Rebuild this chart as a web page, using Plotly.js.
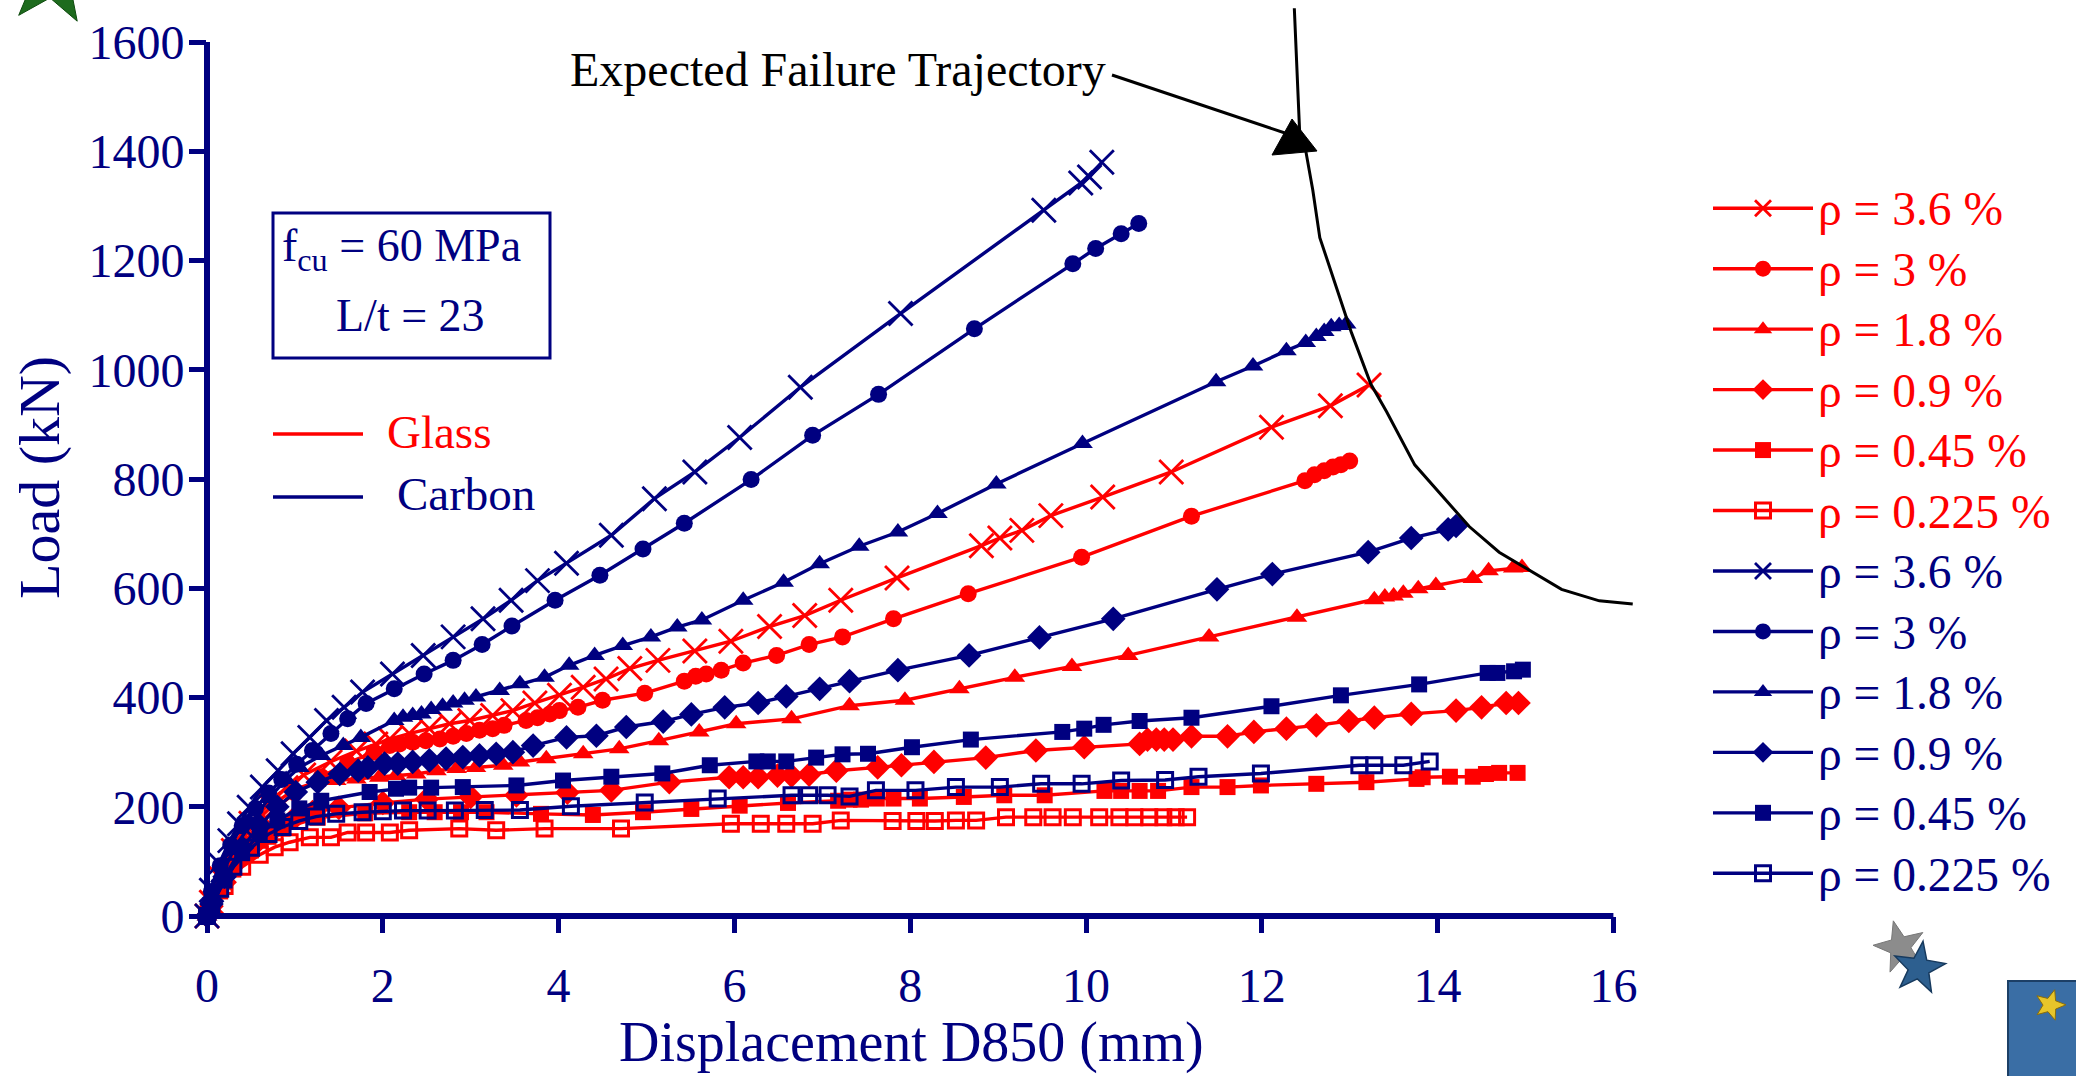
<!DOCTYPE html>
<html>
<head>
<meta charset="utf-8">
<script src="https://cdn.plot.ly/plotly-3.0.1.min.js"></script>
<style>
  html, body { margin: 0; padding: 0; background: #ffffff; }
  #chart { width: 2076px; height: 1076px; }
</style>
</head>
<body>
<div id="chart"></div>
<script>
// Load–displacement response of slabs with glass and carbon FRP reinforcement,
// fcu = 60 MPa, L/t = 23, for six reinforcement ratios each.

// ---- Glass FRP ----
const glass36X  = [0, 0.05, 0.15, 0.3, 0.5, 0.7, 0.9, 1.1, 1.4, 1.7, 1.92, 2.08, 2.3, 2.53, 2.76, 2.99, 3.25, 3.48, 3.73, 4.01, 4.28, 4.54, 4.81, 5.13, 5.55, 5.96, 6.4, 6.8, 7.21, 7.85, 8.81, 9.02, 9.27, 9.6, 10.19, 10.97, 12.11, 12.78, 13.22];
const glass36Y  = [0, 25, 70, 120, 170, 205, 235, 258, 282, 302, 315, 324, 334, 343, 352, 358, 367, 376, 390, 404, 419, 434, 453, 468, 485, 503, 530, 550, 578, 619, 678, 692, 706, 733, 767, 813, 895, 934, 972];

const glass30X  = [0, 0.05, 0.2, 0.4, 0.6, 0.8, 1.0, 1.3, 1.6, 1.9, 2.08, 2.19, 2.34, 2.49, 2.65, 2.8, 2.95, 3.1, 3.25, 3.38, 3.63, 3.76, 3.9, 4.01, 4.22, 4.5, 4.98, 5.43, 5.56, 5.68, 5.85, 6.1, 6.48, 6.85, 7.23, 7.81, 8.66, 9.95, 11.2, 12.49, 12.6, 12.71, 12.81, 12.9, 13.0];
const glass30Y  = [0, 20, 75, 130, 170, 200, 225, 255, 280, 300, 312, 315, 318, 321, 324, 329, 334, 340, 343, 349, 358, 363, 370, 376, 382, 395, 408, 430, 439, 443, 450, 463, 477, 497, 511, 544, 590, 657, 732, 797, 808, 815, 822, 826, 833];

const glass18X  = [0, 0.05, 0.2, 0.4, 0.6, 0.8, 1.0, 1.24, 1.47, 1.7, 1.96, 2.15, 2.38, 2.61, 2.84, 3.06, 3.37, 3.56, 3.86, 4.28, 4.69, 5.14, 5.6, 6.02, 6.65, 7.31, 7.94, 8.56, 9.19, 9.84, 10.48, 11.4, 12.4, 13.28, 13.4, 13.5, 13.61, 13.78, 13.98, 14.4, 14.58, 14.86, 14.96];
const glass18Y  = [0, 25, 80, 140, 180, 210, 232, 245, 248, 251, 254, 257, 260, 266, 270, 272, 276, 282, 288, 297, 306, 321, 337, 352, 361, 385, 395, 416, 437, 457, 477, 511, 547, 579, 584, 586, 591, 599, 605, 618, 632, 637, 638];

const glass09X  = [0, 0.05, 0.2, 0.4, 0.6, 0.8, 1.0, 1.2, 1.5, 2.0, 2.5, 3.0, 3.52, 4.1, 4.6, 5.26, 5.94, 6.1, 6.27, 6.49, 6.65, 6.85, 7.16, 7.63, 7.9, 8.27, 8.86, 9.43, 9.98, 10.61, 10.7, 10.8, 10.89, 10.99, 11.2, 11.61, 11.91, 12.28, 12.62, 12.99, 13.28, 13.7, 14.21, 14.5, 14.78, 14.92];
const glass09Y  = [0, 18, 62, 110, 140, 165, 180, 190, 198, 207, 214, 218, 221, 226, 230, 245, 254, 254, 254, 257, 257, 259, 266, 272, 276, 282, 290, 303, 309, 315, 323, 323, 323, 323, 329, 329, 337, 343, 349, 357, 363, 370, 376, 382, 390, 390];

const glass045X = [0, 0.05, 0.15, 0.3, 0.5, 0.7, 0.86, 1.26, 1.8, 2.3, 2.59, 2.89, 3.18, 3.8, 4.39, 4.96, 5.51, 6.06, 6.61, 7.18, 7.31, 7.44, 7.62, 7.81, 8.11, 8.61, 9.07, 9.53, 10.21, 10.4, 10.61, 10.82, 11.2, 11.61, 11.99, 12.62, 13.19, 13.76, 13.83, 14.14, 14.4, 14.55, 14.7, 14.91];
const glass045Y = [0, 15, 45, 85, 120, 145, 160, 180, 188, 190, 190, 190, 190, 187, 185, 190, 196, 202, 207, 211, 213, 213, 215, 215, 215, 218, 221, 221, 229, 229, 229, 229, 236, 236, 239, 242, 245, 251, 254, 255, 255, 260, 262, 262];

const glass0225X = [0, 0.05, 0.2, 0.4, 0.6, 0.77, 0.94, 1.17, 1.41, 1.6, 1.81, 2.08, 2.3, 2.87, 3.29, 3.84, 4.71, 5.96, 6.3, 6.59, 6.89, 7.21, 7.8, 8.07, 8.28, 8.52, 8.75, 9.09, 9.4, 9.62, 9.85, 10.15, 10.38, 10.55, 10.72, 10.88, 11.02, 11.15];
const glass0225Y = [0, 15, 55, 90, 112, 126, 135, 144, 144, 153, 153, 153, 157, 160, 157, 160, 160, 169, 169, 169, 169, 175, 174, 174, 174, 175, 175, 181, 181, 181, 181, 181, 181, 181, 181, 181, 181, 181];

// ---- Carbon FRP ----
const carbon36X  = [0, 0.05, 0.14, 0.26, 0.37, 0.48, 0.63, 0.81, 0.98, 1.17, 1.36, 1.56, 1.77, 2.11, 2.46, 2.8, 3.14, 3.46, 3.76, 4.09, 4.6, 5.09, 5.55, 6.06, 6.75, 7.89, 9.52, 9.94, 10.04, 10.18];
const carbon36Y  = [0, 47, 96, 138, 169, 199, 236, 266, 297, 327, 358, 382, 410, 443, 477, 511, 544, 578, 614, 646, 697, 764, 813, 876, 968, 1103, 1292, 1342, 1353, 1380];

const carbon30X  = [0, 0.05, 0.15, 0.27, 0.4, 0.55, 0.7, 0.85, 1.02, 1.2, 1.41, 1.6, 1.81, 2.13, 2.47, 2.8, 3.13, 3.47, 3.96, 4.47, 4.96, 5.43, 6.19, 6.89, 7.64, 8.73, 9.85, 10.11, 10.4, 10.6];
const carbon30Y  = [0, 45, 92, 130, 165, 197, 225, 250, 278, 303, 334, 361, 389, 416, 443, 468, 497, 531, 578, 624, 672, 719, 799, 880, 955, 1075, 1194, 1222, 1249, 1268];

const carbon18X  = [0, 0.05, 0.15, 0.3, 0.5, 0.7, 0.9, 1.05, 1.3, 1.55, 1.75, 2.13, 2.23, 2.34, 2.44, 2.55, 2.68, 2.8, 2.93, 3.06, 3.33, 3.56, 3.84, 4.12, 4.41, 4.73, 5.05, 5.35, 5.63, 6.1, 6.56, 6.97, 7.42, 7.86, 8.31, 8.98, 9.96, 11.48, 11.9, 12.28, 12.5, 12.62, 12.71, 12.79, 12.88, 12.96];
const carbon18Y  = [0, 30, 70, 120, 170, 215, 250, 272, 294, 312, 327, 358, 364, 367, 370, 378, 384, 390, 395, 401, 413, 425, 437, 459, 477, 495, 511, 529, 542, 578, 611, 645, 677, 703, 737, 791, 865, 978, 1007, 1035, 1050, 1061, 1070, 1079, 1081, 1084];

const carbon09X  = [0, 0.05, 0.2, 0.4, 0.6, 0.8, 1.01, 1.26, 1.51, 1.72, 1.83, 2.02, 2.17, 2.34, 2.53, 2.72, 2.91, 3.1, 3.29, 3.48, 3.71, 4.09, 4.43, 4.77, 5.19, 5.51, 5.89, 6.27, 6.59, 6.97, 7.31, 7.86, 8.67, 9.47, 10.31, 11.49, 12.12, 13.21, 13.7, 14.12, 14.21];
const carbon09Y  = [0, 22, 72, 125, 165, 200, 227, 245, 260, 266, 272, 279, 279, 282, 285, 288, 291, 294, 297, 300, 312, 327, 330, 346, 356, 369, 382, 390, 402, 416, 430, 450, 477, 510, 544, 598, 626, 666, 692, 708, 714];

const carbon045X = [0, 0.05, 0.2, 0.4, 0.6, 0.8, 1.05, 1.3, 1.85, 2.15, 2.3, 2.55, 2.91, 3.52, 4.05, 4.6, 5.18, 5.72, 6.25, 6.38, 6.59, 6.93, 7.23, 7.52, 8.02, 8.69, 9.73, 9.98, 10.2, 10.61, 11.2, 12.11, 12.9, 13.79, 14.57, 14.68, 14.87, 14.97];
const carbon045Y = [0, 20, 65, 115, 150, 175, 197, 211, 227, 233, 235, 235, 236, 239, 248, 255, 261, 276, 283, 283, 283, 290, 296, 297, 309, 323, 337, 343, 350, 357, 363, 384, 404, 424, 445, 445, 448, 451];

const carbon0225X = [0, 0.05, 0.15, 0.3, 0.5, 0.7, 0.86, 1.05, 1.24, 1.47, 1.77, 2.0, 2.23, 2.51, 2.82, 3.16, 3.56, 4.14, 4.98, 5.81, 6.65, 6.85, 7.06, 7.31, 7.61, 8.06, 8.52, 9.02, 9.49, 9.95, 10.4, 10.9, 11.28, 11.99, 13.11, 13.28, 13.61, 13.91];
const carbon0225Y = [0, 18, 50, 90, 125, 150, 163, 174, 182, 187, 190, 192, 193, 193, 193, 194, 194, 201, 208, 215, 221, 221, 221, 219, 230, 230, 236, 236, 242, 242, 248, 249, 255, 261, 276, 276, 276, 283];

// ---- Expected failure trajectory ----
const failureX = [12.37, 12.43, 12.50, 12.58, 12.66, 12.85, 13.02, 13.24, 13.42, 13.74, 14.06, 14.36, 14.70, 15.08, 15.41, 15.84, 16.22];
const failureY = [1662, 1437, 1401, 1329, 1242, 1148, 1068, 974, 923, 826, 768, 713, 666, 630, 598, 577, 571];

// ---- Labels and ticks ----
const ratioLabels = ['ρ = 3.6 %', 'ρ = 3 %', 'ρ = 1.8 %', 'ρ = 0.9 %', 'ρ = 0.45 %', 'ρ = 0.225 %'];
const xTickValues = [0, 2, 4, 6, 8, 10, 12, 14, 16];
const yTickValues = [0, 200, 400, 600, 800, 1000, 1200, 1400, 1600];

// ---------------------------------------------------------------------------
const RED = '#FF0000';
const NAVY = '#000080';
const FONT = 'Liberation Serif';

const W = 2076, H = 1076;
const M = { l: 207, r: 427, t: 0, b: 160 };
const PLOT_W = W - M.l - M.r;       // 1442
const PLOT_H = H - M.t - M.b;       // 916
const X_MAX = 16.405;
const Y_MAX = 1677;

// page pixel position -> paper coordinates
const px = v => (v - M.l) / PLOT_W;
const py = v => (M.t + PLOT_H - v) / PLOT_H;

const markerStyles = [
  { symbol: 'x-thin',      size: 24, open: true, lw: 2.8 },
  { symbol: 'circle',      size: 17 },
  { symbol: 'triangle-up', size: 18 },
  { symbol: 'diamond',     size: 19 },
  { symbol: 'square',      size: 16 },
  { symbol: 'square-open', size: 15, open: true, lw: 3 }
];

const glassSeries = [
  [glass36X, glass36Y], [glass30X, glass30Y], [glass18X, glass18Y],
  [glass09X, glass09Y], [glass045X, glass045Y], [glass0225X, glass0225Y]
];
const carbonSeries = [
  [carbon36X, carbon36Y], [carbon30X, carbon30Y], [carbon18X, carbon18Y],
  [carbon09X, carbon09Y], [carbon045X, carbon045Y], [carbon0225X, carbon0225Y]
];

function makeTrace(xy, i, color) {
  const ms = markerStyles[i];
  const marker = { symbol: ms.symbol, size: ms.size, color: color };
  marker.line = ms.open ? { color: color, width: ms.lw } : { width: 0 };
  return {
    type: 'scatter', mode: 'lines+markers',
    x: xy[0], y: xy[1],
    name: '<span style="color:' + color + ';font-size:47.5px">' + ratioLabels[i] + '</span>',
    line: { color: color, width: 3.4 },
    marker: marker,
    cliponaxis: false
  };
}

const traces = [];
glassSeries.forEach((s, i) => traces.push(makeTrace(s, i, RED)));
carbonSeries.forEach((s, i) => traces.push(makeTrace(s, i, NAVY)));
traces.push({
  type: 'scatter', mode: 'lines', x: failureX, y: failureY,
  line: { color: '#000000', width: 3 }, showlegend: false, hoverinfo: 'skip'
});

const axisCommon = {
  showgrid: false, zeroline: false, showline: false,
  ticks: 'outside', tickwidth: 5, tickcolor: NAVY,
  tickfont: { family: FONT, size: 48, color: NAVY },
  fixedrange: true
};

// five-pointed star outline in paper coordinates
function starPath(cx, cy, R, r, rot) {
  let d = '';
  for (let k = 0; k < 10; k++) {
    const a = rot + k * Math.PI / 5;
    const rad = k % 2 === 0 ? R : r;
    const x = cx + rad * Math.sin(a), y = cy - rad * Math.cos(a);
    d += (k === 0 ? 'M' : ' L') + px(x).toFixed(5) + ',' + py(y).toFixed(5);
  }
  return d + ' Z';
}

const shapes = [
  // axis lines, ending at the last tick
  { type: 'line', xref: 'paper', yref: 'paper', x0: 0, x1: 16 / X_MAX, y0: 0, y1: 0,
    line: { color: NAVY, width: 6 }, layer: 'above' },
  { type: 'line', xref: 'paper', yref: 'paper', x0: 0, x1: 0, y0: 0, y1: 1600 / Y_MAX,
    line: { color: NAVY, width: 6 }, layer: 'above' },
  // specimen box
  { type: 'rect', xref: 'paper', yref: 'paper', x0: px(273), x1: px(550), y0: py(358), y1: py(213),
    line: { color: NAVY, width: 3 }, fillcolor: 'rgba(0,0,0,0)' },
  // material key
  { type: 'line', xref: 'paper', yref: 'paper', x0: px(273), x1: px(363), y0: py(434), y1: py(434),
    line: { color: RED, width: 3.5 } },
  { type: 'line', xref: 'paper', yref: 'paper', x0: px(273), x1: px(363), y0: py(497), y1: py(497),
    line: { color: NAVY, width: 3.5 } },
  // pointer to the failure trajectory
  { type: 'line', xref: 'paper', yref: 'paper', x0: px(1112), x1: px(1288), y0: py(75), y1: py(134),
    line: { color: '#000000', width: 3 } },
  { type: 'path', xref: 'paper', yref: 'paper',
    path: 'M' + px(1292) + ',' + py(119) + ' L' + px(1272) + ',' + py(155) + ' L' + px(1317) + ',' + py(151) + ' Z',
    fillcolor: '#000000', line: { color: '#000000', width: 1 } },
  // slide ornaments
  { type: 'path', xref: 'paper', yref: 'paper', path: starPath(52, -22, 50, 20, 0.1),
    fillcolor: '#1e6b1e', line: { color: '#0d4a0d', width: 1 } },
  { type: 'path', xref: 'paper', yref: 'paper', path: starPath(1900, 947, 27, 11, -0.25),
    fillcolor: '#8c8c8c', line: { color: '#777777', width: 1 } },
  { type: 'path', xref: 'paper', yref: 'paper', path: starPath(1919, 968, 27, 11, 0.15),
    fillcolor: '#2d5f8f', line: { color: '#173a5e', width: 1.5 } },
  { type: 'rect', xref: 'paper', yref: 'paper', x0: px(2008), x1: px(2080), y0: py(1080), y1: py(981),
    fillcolor: '#3a6ea5', line: { color: '#1c3f66', width: 2 } },
  { type: 'path', xref: 'paper', yref: 'paper', path: starPath(2050, 1005, 16, 7, 0.3),
    fillcolor: '#e7c52a', line: { color: '#8a6d0a', width: 1 } }
];

const annotations = [
  { text: 'Expected Failure Trajectory', xref: 'paper', yref: 'paper', x: px(838), y: py(69),
    xanchor: 'center', yanchor: 'middle', showarrow: false,
    font: { family: FONT, size: 48, color: '#000000' } },
  { text: 'f<sub>cu</sub> = 60 MPa', xref: 'paper', yref: 'paper', x: px(280), y: py(249),
    xanchor: 'left', yanchor: 'middle', showarrow: false,
    font: { family: FONT, size: 46, color: NAVY } },
  { text: 'L/t = 23', xref: 'paper', yref: 'paper', x: px(410), y: py(315),
    xanchor: 'center', yanchor: 'middle', showarrow: false,
    font: { family: FONT, size: 46, color: NAVY } },
  { text: 'Glass', xref: 'paper', yref: 'paper', x: px(385), y: py(432),
    xanchor: 'left', yanchor: 'middle', showarrow: false,
    font: { family: FONT, size: 47, color: RED } },
  { text: 'Carbon', xref: 'paper', yref: 'paper', x: px(395), y: py(494),
    xanchor: 'left', yanchor: 'middle', showarrow: false,
    font: { family: FONT, size: 47, color: NAVY } },
  { text: 'Load (kN)', xref: 'paper', yref: 'paper', x: px(40), y: py(478),
    xanchor: 'center', yanchor: 'middle', textangle: -90, showarrow: false,
    font: { family: FONT, size: 58, color: NAVY } },
  { text: 'Displacement D850 (mm)', xref: 'paper', yref: 'paper', x: px(911), y: py(1042),
    xanchor: 'center', yanchor: 'middle', showarrow: false, borderpad: 0,
    font: { family: FONT, size: 56, color: NAVY } }
];

const layout = {
  width: W, height: H,
  margin: M,
  paper_bgcolor: '#ffffff', plot_bgcolor: '#ffffff',
  font: { family: FONT, color: NAVY },
  showlegend: true,
  legend: {
    xref: 'container', yref: 'container',
    x: 1708 / W, y: 1 - 173 / H, xanchor: 'left', yanchor: 'top',
    font: { family: FONT, size: 44.2, color: NAVY },
    itemwidth: 100, traceorder: 'normal', bgcolor: 'rgba(0,0,0,0)', borderwidth: 0,
    maxheight: 1000, itemclick: false, itemdoubleclick: false
  },
  xaxis: Object.assign({}, axisCommon, {
    range: [0, X_MAX], tickvals: xTickValues, ticktext: xTickValues.map(String),
    ticklen: 16, ticklabelstandoff: 11
  }),
  yaxis: Object.assign({}, axisCommon, {
    range: [0, Y_MAX], tickvals: yTickValues, ticktext: yTickValues.map(String),
    ticklen: 17, ticklabelstandoff: -5
  }),
  shapes: shapes,
  annotations: annotations
};

Plotly.newPlot('chart', traces, layout, { displayModeBar: false, staticPlot: true });
</script>
</body>
</html>
